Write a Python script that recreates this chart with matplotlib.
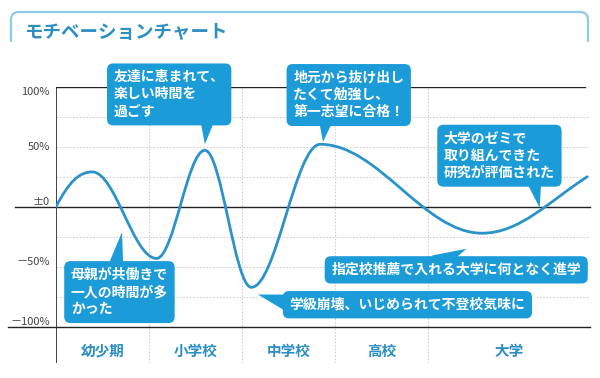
import matplotlib
matplotlib.use("Agg")
import matplotlib.pyplot as plt
from matplotlib.path import Path
from matplotlib.patches import PathPatch

plt.rcParams["font.family"] = ["Noto Sans CJK JP", "DejaVu Sans"]

# ─────────────────────────────────────────────
# データ
# ─────────────────────────────────────────────
TITLE = "モチベーションチャート"
stages = ["幼少期", "小学校", "中学校", "高校", "大学"]
stage_edges = [0, 1, 2, 3, 4, 5.74]          # 各時期の区切り
curve_x = [0, 0.39, 1.08, 1.60, 2.10, 2.84, 4.58, 5.71]
curve_y = [0, 29, -43, 47, -67, 52, -22, 25]  # モチベーション（%）
y_ticks = [100, 50, 0, -50, -100]
y_tick_labels = ["100%", "50%", "±0", "－50%", "－100%"]
grid_y = [75, 50, 25, -25, -50, -75]

events = [
    "友達に恵まれて、\n楽しい時間を\n過ごす",
    "地元から抜け出し\nたくて勉強し、\n第一志望に合格！",
    "大学のゼミで\n取り組んできた\n研究が評価された",
    "指定校推薦で入れる大学に何となく進学",
    "学級崩壊、いじめられて不登校気味に",
    "母親が共働きで\n一人の時間が多\nかった",
]
event_tips = [(1.60, 52), (2.87, 54), (5.20, -1), (4.41, -35), (2.17, -73), (0.71, -21)]
event_text_pos = [(0.62, 93.5), (2.55, 93), (4.17, 42.5), (2.96, -52.5), (2.51, -81.5), (0.16, -71)]
event_relpos = [(0.85, 0.1), (0.3, 0.1), (0.8, 0.1), (0.42, 0.95), (0.0, 0.6), (0.45, 0.9)]

LINE_COLOR = "#2a93c9"
BOX_COLOR = "#1b9bd8"
TEXT_BLUE = "#2b8fc4"
FRAME_COLOR = "#8fcbe8"


def bezier_path(xs, ys, k=0.36):
    """極値で水平接線となる滑らかな曲線（3次ベジェ）"""
    verts = [(xs[0], ys[0])]
    codes = [Path.MOVETO]
    n = len(xs)
    for i in range(n - 1):
        x0, y0, x1, y1 = xs[i], ys[i], xs[i + 1], ys[i + 1]
        dx, dy = x1 - x0, y1 - y0
        if i == 0:
            c1 = (x0 + k * dx, y0 + 2 * k * dy)
        else:
            c1 = (x0 + k * dx, y0)
        if i == n - 2:
            c2 = (x1 - k * dx, y1 - 1.2 * k * dy)
        else:
            c2 = (x1 - k * dx, y1)
        verts += [c1, c2, (x1, y1)]
        codes += [Path.CURVE4] * 3
    return Path(verts, codes)


W, H = 600, 378
fig = plt.figure(figsize=(W / 100, H / 100), dpi=100)
fig.patch.set_facecolor("white")

# ── 外枠とタイトル（ピクセル座標のオーバーレイ） ──
bg = fig.add_axes([0, 0, 1, 1], zorder=0)
bg.set_xlim(0, W)
bg.set_ylim(H, 0)
bg.axis("off")
frame = Path(
    [(11, 42), (11, 20), (11, 12), (19, 12), (580, 12), (588, 12), (588, 20), (588, 42)],
    [Path.MOVETO, Path.LINETO, Path.CURVE3, Path.CURVE3, Path.LINETO,
     Path.CURVE3, Path.CURVE3, Path.LINETO],
)
bg.add_patch(PathPatch(frame, fill=False, edgecolor=FRAME_COLOR, lw=1.6))
bg.text(24, 32, TITLE, fontsize=13.3, fontweight="bold", color=TEXT_BLUE,
        ha="left", va="center")

# ── メインチャート ──
left_px, right_px, top_px, bottom_px = 56, 590, 86.6, 363
ax = fig.add_axes([left_px / W, 1 - bottom_px / H,
                   (right_px - left_px) / W, (bottom_px - top_px) / H], zorder=1)
ax.set_facecolor("none")
ax.set_xlim(stage_edges[0], stage_edges[-1])
ax.set_ylim(-130, 100)
for s in ax.spines.values():
    s.set_visible(False)
ax.set_xticks([])
ax.set_yticks([])

# グリッド（点線）
for gy in grid_y:
    ax.axhline(gy, color="#d0d0d0", lw=0.8, ls=(0, (1.5, 1.5)), zorder=1)
for ex in stage_edges[1:-1]:
    ax.axvline(ex, color="#d0d0d0", lw=0.8, ls=(0, (1.5, 1.5)), zorder=1)

# 実線（上端・0・下端・縦軸）
ax.axhline(100, xmin=0, xmax=0.99, color="#222222", lw=1.0, zorder=2)
ax.axhline(0, xmin=-0.077, xmax=1.0, color="#222222", lw=1.0, zorder=2, clip_on=False)
ax.axhline(-100, xmin=-0.09, xmax=1.0, color="#222222", lw=1.0, zorder=2, clip_on=False)
ax.axvline(0, color="#222222", lw=1.2, zorder=2)

# 縦軸ラベル
valign = {100: "top", 50: "center"}
for v, lab in zip(y_ticks, y_tick_labels):
    ax.text(-0.065, v, lab, ha="right", va=valign.get(v, "bottom"),
            fontsize=8, color="#444444", clip_on=False)

# 時期ラベル
for i, name in enumerate(stages):
    cx = (stage_edges[i] + stage_edges[i + 1]) / 2
    ax.text(cx, -120, name, ha="center", va="center", fontsize=10.5,
            fontweight="bold", color=TEXT_BLUE)

# モチベーション曲線
ax.add_patch(PathPatch(bezier_path(curve_x, curve_y), fill=False,
                       edgecolor=LINE_COLOR, lw=2.0, zorder=3,
                       capstyle="round", joinstyle="round"))

# 吹き出し
for text, tip, pos, rp in zip(events, event_tips, event_text_pos, event_relpos):
    ax.annotate(
        text, xy=tip, xytext=pos, ha="left", va="center",
        fontsize=10, fontweight="bold", color="white", linespacing=1.3,
        bbox=dict(boxstyle="round,pad=0.48,rounding_size=0.45",
                  fc=BOX_COLOR, ec="none"),
        arrowprops=dict(arrowstyle="wedge,tail_width=1.3,shrink_factor=0.5",
                        fc=BOX_COLOR, ec="none", patchA=None, relpos=rp,
                        shrinkA=0, shrinkB=0),
        zorder=5, annotation_clip=False,
    )

fig.savefig("out.png", dpi=100, facecolor="white")
